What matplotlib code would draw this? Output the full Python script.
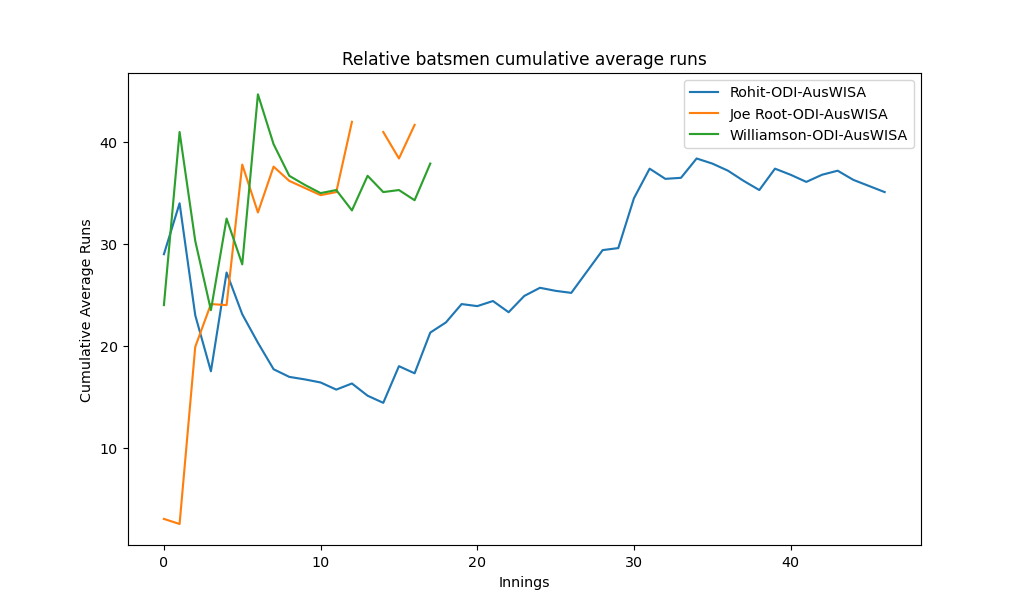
import numpy as np
import matplotlib
matplotlib.use('Agg')
import matplotlib.pyplot as plt

#Cumulative averages per innings
rohit=[29.0,34.0,23.0,17.5,27.2,23.1,20.3,17.7,16.95,16.7,16.4,15.7,16.3,15.1,14.4,18.0,
       17.3,21.3,22.3,24.1,23.9,24.4,23.3,24.9,25.7,25.4,25.2,27.3,29.4,29.6,34.5,37.4,
       36.4,36.5,38.4,37.9,37.2,36.2,35.3,37.4,36.8,36.1,36.8,37.2,36.3,35.7,35.1]
root=[3.0,2.5,19.9,24.1,24.0,37.8,33.1,37.6,36.2,35.5,34.8,35.1,42.0,np.nan,41.0,38.4,41.7]
williamson=[24.0,41.0,30.3,23.5,32.5,28.0,44.7,39.8,36.7,35.8,35.0,35.3,33.3,36.7,35.1,35.3,34.3,37.9]
labels=['Rohit-ODI-AusWISA','Joe Root-ODI-AusWISA','Williamson-ODI-AusWISA']

fig,ax=plt.subplots(figsize=(10,6),dpi=102.3)
for series,label in zip([rohit,root,williamson],labels):
    ax.plot(np.arange(len(series)),series,label=label)

ax.set(title='Relative batsmen cumulative average runs',xlabel='Innings',ylabel='Cumulative Average Runs')
ax.legend(loc='upper right')
fig.savefig('out.png')
